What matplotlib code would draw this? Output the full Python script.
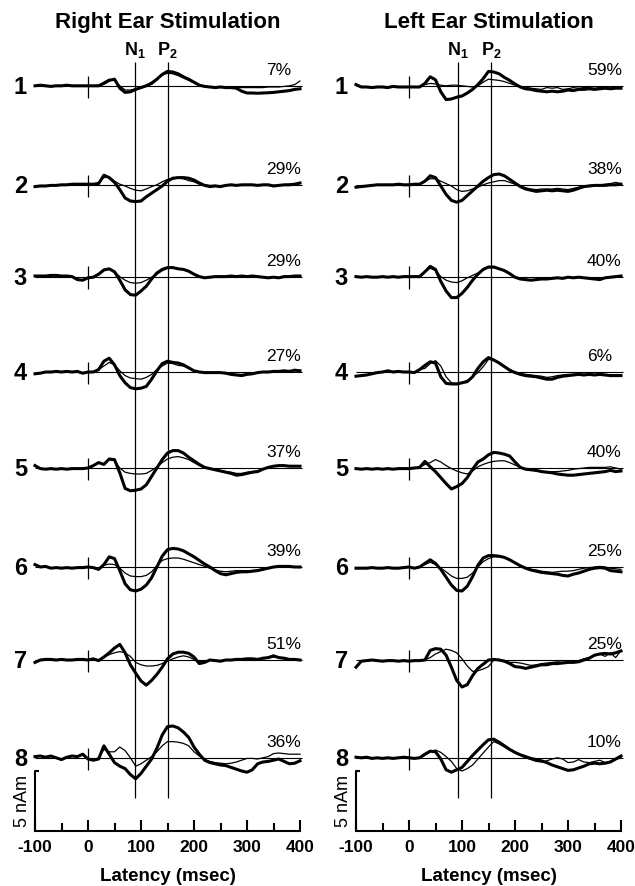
import matplotlib
matplotlib.use("Agg")
import matplotlib.pyplot as plt
import numpy as np

plt.rcParams["font.family"] = ["Liberation Sans", "DejaVu Sans"]
plt.rcParams["mathtext.fontset"] = "custom"
plt.rcParams["mathtext.bf"] = "Liberation Sans:bold"
plt.rcParams["mathtext.rm"] = "Liberation Sans"
plt.rcParams["axes.unicode_minus"] = False

# Latenz-Raster in msec, Werte in nAm
latency = np.arange(-100, 401, 10)

row_names = ["1", "2", "3", "4", "5", "6", "7", "8"]
row_base = [62.1, 53.85, 46.2, 38.25, 30.25, 22.0, 14.25, 6.1]

right_ear_pct = ["7%", "29%", "29%", "27%", "37%", "39%", "51%", "36%"]
left_ear_pct = ["59%", "38%", "40%", "6%", "40%", "25%", "25%", "10%"]

n1_lat = [89, 93]
p2_lat = [150, 155]

# Right Ear Stimulation, dicke Kurven
right_ear_thick = [
    [0, 0.05, 0, -0.05, 0, 0, 0.05, 0, 0, 0,
     0, 0, 0, 0.2, 0.45, 0.55, -0.2, -0.55, -0.5, -0.3,
     -0.15, 0.0, 0.2, 0.55, 0.95, 1.2, 1.15, 1.0, 0.75, 0.55,
     0.3, 0.05, -0.05, -0.1, -0.15, -0.1, -0.15, -0.15, -0.2, -0.45,
     -0.6, -0.6, -0.62, -0.6, -0.58, -0.55, -0.5, -0.45, -0.4, -0.3,
     -0.25],
    [-0.15, -0.1, -0.1, -0.05, -0.05, 0, 0, 0.05, 0.05, 0.05,
     0.05, 0.05, 0.1, 0.8, 0.6, 0.2, -0.4, -1.1, -1.35, -1.4,
     -1.35, -1.0, -0.7, -0.4, -0.1, 0.3, 0.55, 0.6, 0.6, 0.55,
     0.4, 0.15, -0.05, -0.15, -0.1, -0.15, -0.05, 0, -0.05, 0,
     0, 0, -0.05, 0, 0, -0.1, -0.05, 0, 0, 0.05,
     0.15],
    [0.05, 0.05, 0.05, 0.1, 0.1, 0.05, 0.05, 0, -0.25, -0.3,
     -0.1, -0.05, 0.2, 0.55, 0.65, 0.4, -0.3, -1.1, -1.5, -1.55,
     -1.2, -0.8, -0.2, 0.3, 0.6, 0.75, 0.75, 0.65, 0.6, 0.45,
     0.2, 0.0, -0.1, -0.05, 0, 0, 0, 0.05, 0, 0.05,
     0, 0.05, 0, -0.05, -0.1, -0.05, -0.1, 0, 0, 0.05,
     0.05],
    [-0.15, -0.1, 0, 0, 0.05, 0, 0.05, 0, 0.05, -0.1,
     0, 0, 0.2, 0.9, 1.15, 0.6, -0.3, -0.9, -1.3, -1.4,
     -1.35, -1.2, -0.6, 0.1, 0.7, 0.9, 0.8, 0.75, 0.6, 0.35,
     0.1, 0.0, -0.05, -0.05, -0.05, -0.05, -0.1, -0.2, -0.25, -0.3,
     -0.2, -0.15, -0.05, 0, 0, 0.05, 0.05, 0.1, 0.05, 0.15,
     0.1],
    [0.2, -0.05, -0.1, -0.05, -0.1, -0.05, -0.1, -0.05, -0.05, -0.05,
     0, 0.2, 0.45, 0.3, 0.75, 0.7, -0.4, -1.7, -1.9, -1.85,
     -1.75, -1.4, -0.7, 0.0, 0.7, 1.25, 1.45, 1.45, 1.25, 0.9,
     0.6, 0.3, 0.05, -0.05, -0.15, -0.25, -0.35, -0.45, -0.6, -0.55,
     -0.45, -0.35, -0.3, -0.1, 0.05, 0.15, 0.2, 0.2, 0.15, 0.15,
     0.15],
    [0.2, 0.0, 0.05, -0.1, -0.05, -0.1, -0.05, -0.1, -0.05, -0.05,
     0, -0.05, -0.2, 0.2, 0.85, 0.7, -0.3, -1.4, -1.9, -2.0,
     -1.85, -1.5, -0.9, 0.0, 0.9, 1.45, 1.55, 1.5, 1.35, 1.1,
     0.85, 0.55, 0.25, 0.0, -0.3, -0.55, -0.65, -0.55, -0.45, -0.4,
     -0.4, -0.35, -0.3, -0.2, -0.1, 0.0, 0.05, 0.05, 0.05, 0.0,
     0.0],
    [-0.2, 0.0, 0.05, 0.05, 0.0, 0.05, 0.0, 0.0, 0.05, 0.05,
     0.0, 0.1, -0.05, 0.25, 0.6, 1.0, 1.3, 0.6, -0.4, -1.1,
     -1.75, -2.1, -1.7, -1.2, -0.6, 0.1, 0.5, 0.65, 0.65, 0.55,
     0.25, -0.3, -0.2, 0.0, -0.05, -0.1, 0.0, 0.0, 0.05, 0.05,
     0.1, 0.1, 0.05, 0.15, 0.2, 0.35, 0.2, 0.15, 0.05, 0.05,
     0.0],
    [0.1, 0.15, 0.05, 0.15, 0.0, -0.15, 0.05, 0.15, 0.1, 0.3,
     -0.1, -0.2, -0.1, 1.0, 0.3, -0.4, -0.7, -0.9, -1.4, -1.75,
     -1.3, -0.7, -0.1, 0.8, 1.9, 2.6, 2.65, 2.5, 2.15, 1.7,
     0.9, 0.3, -0.2, -0.4, -0.5, -0.6, -0.65, -0.8, -0.95, -1.1,
     -1.2, -1.0, -0.5, -0.35, -0.3, -0.2, -0.1, -0.3, -0.5, -0.45,
     -0.25],
]

# Right Ear Stimulation, duenne Kurven
right_ear_thin = [
    [0, 0.05, 0, -0.05, 0, 0, 0.05, 0, 0, 0,
     0, 0, 0.05, 0.3, 0.55, 0.45, 0.0, -0.35, -0.35, -0.25,
     -0.1, 0.05, 0.3, 0.6, 0.9, 1.05, 1.0, 0.85, 0.65, 0.45,
     0.25, 0.05, -0.05, -0.1, -0.1, -0.1, -0.15, -0.15, -0.15, -0.15,
     -0.15, -0.15, -0.15, -0.15, -0.1, -0.1, -0.1, -0.05, 0.0, 0.1,
     0.4],
    [-0.15, -0.1, -0.1, -0.05, -0.05, 0, 0, 0.05, 0.05, 0.05,
     0.05, 0.05, 0.2, 0.6, 0.65, 0.3, 0.05, -0.1, -0.3, -0.45,
     -0.5, -0.35, -0.15, 0.0, 0.25, 0.45, 0.5, 0.55, 0.5, 0.35,
     0.25, 0.05, 0, -0.05, -0.05, -0.1, -0.05, 0, 0, 0,
     0, 0, 0, 0, 0, -0.05, 0, 0, 0.05, 0.05,
     0.15],
    [0.05, 0.05, 0.05, 0.1, 0.1, 0.05, 0.05, 0, -0.25, -0.3,
     -0.1, -0.05, 0.2, 0.6, 0.6, 0.4, 0.0, -0.3, -0.5, -0.55,
     -0.5, -0.3, -0.05, 0.2, 0.5, 0.7, 0.72, 0.65, 0.6, 0.45,
     0.2, 0.0, -0.1, -0.05, 0, 0, 0, 0.05, 0, 0.05,
     0, 0.05, 0, -0.05, -0.1, -0.05, -0.1, 0, 0, 0.05,
     0.05],
    [-0.15, -0.1, 0, 0, 0.05, 0, 0.05, 0, 0.05, -0.1,
     0, 0, 0.2, 0.5, 0.8, 0.6, 0.1, -0.3, -0.5, -0.55,
     -0.6, -0.45, -0.2, 0.2, 0.5, 0.75, 0.7, 0.55, 0.5, 0.3,
     0.1, 0.0, -0.05, -0.05, -0.05, -0.1, -0.1, -0.15, -0.2, -0.2,
     -0.15, -0.1, -0.05, 0, 0, 0.05, 0.05, 0.1, 0.05, 0.15,
     0.1],
    [0.2, -0.05, -0.1, -0.05, -0.1, -0.05, -0.1, -0.05, -0.05, -0.05,
     0, 0.2, 0.45, 0.3, 0.7, 0.6, 0.0, -0.35, -0.45, -0.5,
     -0.5, -0.45, -0.2, 0.1, 0.45, 0.75, 0.9, 0.95, 0.85, 0.7,
     0.45, 0.2, 0.05, -0.05, -0.1, -0.2, -0.3, -0.35, -0.45, -0.45,
     -0.35, -0.3, -0.25, -0.1, 0.05, 0.15, 0.2, 0.2, 0.15, 0.15,
     0.15],
    [0.2, 0.0, 0.05, -0.1, -0.05, -0.1, -0.05, -0.1, -0.05, -0.05,
     0, -0.05, -0.2, 0.15, 0.25, 0.2, -0.1, -0.5, -0.75, -0.8,
     -0.8, -0.7, -0.4, 0.1, 0.55, 0.7, 0.75, 0.75, 0.65, 0.5,
     0.35, 0.2, 0.05, -0.1, -0.25, -0.35, -0.4, -0.35, -0.3, -0.3,
     -0.3, -0.3, -0.25, -0.15, -0.05, 0.0, 0.05, 0.05, 0.05, 0.0,
     0.0],
    [-0.2, 0.0, 0.05, 0.05, 0.0, 0.05, 0.0, 0.0, 0.05, 0.05,
     0.0, 0.1, 0.0, 0.2, 0.45, 0.6, 0.7, 0.6, 0.3, -0.2,
     -0.4, -0.5, -0.5, -0.45, -0.3, -0.1, 0.1, 0.25, 0.35, 0.25,
     0.05, -0.15, -0.1, 0.0, -0.05, -0.05, 0.0, 0.0, 0.05, 0.05,
     0.1, 0.05, 0.05, 0.1, 0.15, 0.25, 0.2, 0.1, 0.05, 0.05,
     0.0],
    [0.1, 0.15, 0.05, 0.15, 0.0, -0.15, 0.05, 0.15, 0.1, 0.35,
     -0.1, -0.2, 0.0, 0.7, 0.5, 0.5, 0.9, 0.6, 0.0, -0.7,
     -0.5, -0.2, 0.1, 0.5, 1.0, 1.35, 1.35, 1.3, 1.2, 1.0,
     0.5, 0.15, -0.15, -0.3, -0.4, -0.45, -0.5, -0.45, -0.35, -0.2,
     -0.05, -0.05, -0.1, 0.0, 0.1, 0.35, 0.4, 0.35, 0.3, 0.3,
     0.3],
]

# Left Ear Stimulation, dicke Kurven
left_ear_thick = [
    [0.1, -0.1, -0.1, -0.15, -0.1, -0.1, -0.15, -0.05, -0.1, -0.1,
     -0.1, -0.1, -0.1, 0.2, 0.75, 0.5, -0.5, -1.15, -1.1, -0.95,
     -0.85, -0.6, -0.3, 0.1, 0.6, 1.2, 1.15, 1.0, 0.7, 0.45,
     0.15, -0.1, -0.25, -0.3, -0.4, -0.45, -0.5, -0.45, -0.5, -0.45,
     -0.35, -0.4, -0.3, -0.3, -0.25, -0.3, -0.25, -0.2, -0.25, -0.2,
     -0.2],
    [-0.2, -0.15, -0.1, -0.05, 0.0, 0.0, 0.0, 0.0, 0.05, 0.0,
     0.0, 0.05, 0.05, 0.3, 0.75, 0.6, -0.1, -0.8, -1.3, -1.45,
     -1.3, -0.9, -0.5, -0.1, 0.3, 0.6, 0.85, 0.9, 0.75, 0.45,
     0.15, -0.15, -0.35, -0.45, -0.55, -0.5, -0.45, -0.5, -0.45, -0.5,
     -0.55, -0.45, -0.3, -0.15, -0.1, -0.05, -0.05, -0.05, 0.0, 0.0,
     0.05],
    [0.0, -0.05, 0.0, -0.05, -0.05, 0.0, -0.05, 0.0, -0.05, 0.0,
     0.0, 0.0, 0.0, 0.4, 0.85, 0.6, -0.4, -1.2, -1.75, -1.75,
     -1.4, -0.9, -0.3, 0.2, 0.6, 0.8, 0.8, 0.65, 0.5, 0.25,
     -0.05, -0.2, -0.25, -0.3, -0.25, -0.2, -0.2, -0.15, -0.1, -0.15,
     -0.05, -0.1, -0.05, -0.1, -0.15, -0.2, -0.25, -0.1, -0.05, 0.0,
     0.05],
    [-0.35, -0.3, -0.25, -0.15, -0.05, 0.0, 0.1, 0.0, 0.05, 0.0,
     0.0, -0.05, 0.2, 0.55, 0.85, 0.75, -0.4, -0.95, -1.0, -1.0,
     -0.9, -0.8, -0.4, 0.3, 0.85, 1.2, 1.0, 0.75, 0.45, 0.15,
     -0.05, -0.2, -0.3, -0.35, -0.4, -0.5, -0.6, -0.6, -0.45, -0.35,
     -0.3, -0.25, -0.2, -0.25, -0.2, -0.25, -0.2, -0.25, -0.3, -0.3,
     -0.3],
    [-0.05, -0.1, -0.05, -0.1, -0.05, -0.1, -0.05, -0.1, -0.05, -0.05,
     -0.05, 0.0, 0.05, 0.55, 0.1, -0.3, -0.8, -1.3, -1.75, -1.55,
     -1.3, -0.8, -0.1, 0.5, 0.75, 1.1, 1.3, 1.25, 1.15, 1.0,
     0.5, 0.05, -0.1, -0.15, -0.2, -0.3, -0.35, -0.4, -0.5, -0.55,
     -0.6, -0.6, -0.55, -0.5, -0.45, -0.4, -0.35, -0.3, -0.2, -0.3,
     -0.25],
    [-0.1, -0.1, -0.1, -0.05, -0.1, -0.1, -0.05, -0.1, -0.1, -0.05,
     0.0, -0.1, 0.0, 0.3, 0.6, 0.3, -0.2, -0.85, -1.5, -1.95,
     -2.0, -1.6, -0.8, 0.15, 0.75, 0.95, 0.95, 0.9, 0.8, 0.6,
     0.35, 0.1, -0.1, -0.25, -0.35, -0.45, -0.5, -0.55, -0.6, -0.7,
     -0.75, -0.6, -0.5, -0.35, -0.2, -0.1, -0.05, -0.1, -0.3, -0.35,
     -0.4],
    [-0.6, -0.1, -0.05, 0.0, -0.05, -0.1, -0.05, -0.05, -0.1, -0.05,
     -0.1, -0.05, -0.05, 0.0, 0.8, 0.95, 0.9, 0.4, -0.6, -1.7,
     -2.25, -2.05, -1.3, -0.7, -0.35, 0.0, 0.05, 0.0, -0.1, -0.3,
     -0.55, -0.6, -0.7, -0.6, -0.5, -0.4, -0.4, -0.3, -0.3, -0.25,
     -0.2, -0.2, -0.15, 0.0, 0.15, 0.4, 0.5, 0.55, 0.5, 0.6,
     0.75],
    [0.05, 0.0, 0.05, -0.05, 0.0, -0.05, 0.0, -0.05, 0.0, 0.05,
     0.0, -0.05, 0.0, 0.3, 0.55, 0.5, -0.1, -1.0, -1.2, -1.0,
     -0.8, -0.3, 0.2, 0.65, 1.1, 1.5, 1.55, 1.3, 1.0, 0.7,
     0.45, 0.25, 0.1, -0.05, -0.15, -0.25, -0.4, -0.6, -0.75, -0.9,
     -1.05, -1.0, -0.85, -0.7, -0.5, -0.45, -0.5, -0.45, -0.35, -0.1,
     0.15],
]

# Left Ear Stimulation, duenne Kurven
left_ear_thin = [
    [0.1, -0.1, -0.1, -0.15, -0.1, -0.1, -0.15, -0.05, -0.1, -0.1,
     -0.1, -0.1, -0.05, 0.1, 0.2, 0.15, 0.05, 0.0, 0.05, 0.05,
     0.0, -0.05, -0.1, 0.0, 0.3, 0.55, 0.5, 0.45, 0.35, 0.2,
     0.05, -0.05, -0.1, -0.2, -0.25, -0.3, -0.15, -0.2, -0.15, -0.3,
     -0.25, -0.15, -0.2, -0.15, -0.15, -0.2, -0.15, -0.15, -0.2, -0.15,
     -0.15],
    [-0.2, -0.15, -0.1, -0.05, 0.0, 0.0, 0.0, 0.0, 0.05, 0.0,
     0.0, 0.05, 0.05, 0.3, 0.5, 0.5, 0.3, 0.1, -0.1, -0.4,
     -0.55, -0.5, -0.35, -0.2, 0.0, 0.15, 0.25, 0.35, 0.35, 0.2,
     0.05, -0.1, -0.25, -0.35, -0.4, -0.35, -0.35, -0.35, -0.3, -0.35,
     -0.4, -0.3, -0.2, -0.1, -0.05, 0.0, 0.0, 0.05, 0.1, 0.2,
     0.1],
    [0.0, -0.05, 0.0, -0.05, -0.05, 0.0, -0.05, 0.0, -0.05, 0.0,
     0.0, 0.0, 0.0, 0.4, 0.7, 0.5, 0.0, -0.3, -0.45, -0.5,
     -0.35, -0.1, 0.1, 0.3, 0.55, 0.75, 0.75, 0.65, 0.5, 0.25,
     -0.05, -0.2, -0.25, -0.3, -0.25, -0.2, -0.2, -0.15, -0.1, -0.15,
     -0.05, -0.1, -0.05, -0.1, -0.15, -0.2, -0.25, -0.1, -0.05, 0.0,
     0.05],
    [-0.35, -0.3, -0.25, -0.15, -0.05, 0.0, 0.1, 0.0, 0.05, 0.0,
     0.0, -0.05, 0.2, 0.3, 0.7, 0.95, 0.5, -0.4, -0.9, -0.95,
     -0.9, -0.7, -0.4, -0.05, 0.45, 1.05, 1.0, 0.8, 0.5, 0.2,
     0.0, -0.1, -0.2, -0.25, -0.3, -0.35, -0.45, -0.4, -0.3, -0.25,
     -0.2, -0.2, -0.15, -0.2, -0.15, -0.2, -0.15, -0.2, -0.25, -0.25,
     -0.25],
    [-0.05, -0.1, -0.05, -0.1, -0.05, -0.1, -0.05, -0.1, -0.05, -0.05,
     -0.05, 0.0, 0.05, 0.3, 0.45, 0.7, 0.5, 0.2, -0.05, -0.25,
     -0.4, -0.5, -0.25, 0.1, 0.3, 0.45, 0.55, 0.6, 0.6, 0.45,
     0.25, 0.05, -0.1, -0.15, -0.25, -0.3, -0.35, -0.3, -0.3, -0.25,
     -0.2, -0.1, -0.05, 0.0, 0.05, 0.05, 0.05, 0.05, 0.1, 0.0,
     -0.1],
    [-0.1, -0.1, -0.1, -0.05, -0.1, -0.1, -0.05, -0.1, -0.1, -0.05,
     0.0, -0.1, 0.0, 0.2, 0.4, 0.2, -0.1, -0.4, -0.75, -0.95,
     -0.95, -0.85, -0.5, 0.0, 0.45, 0.7, 0.85, 0.85, 0.8, 0.6,
     0.35, 0.1, -0.05, -0.2, -0.25, -0.35, -0.4, -0.45, -0.4, -0.35,
     -0.35, -0.3, -0.2, -0.1, -0.05, 0.0, 0.05, 0.0, -0.1, -0.15,
     -0.2],
    [-0.6, -0.1, -0.05, 0.0, -0.05, -0.1, -0.05, -0.05, -0.1, -0.05,
     -0.1, -0.05, -0.05, 0.0, 0.2, 0.5, 0.7, 0.9, 0.8, 0.6,
     0.1, -0.5, -0.95, -0.9, -0.75, -0.55, 0.0, 0.05, -0.05, -0.2,
     -0.2, -0.25, -0.35, -0.45, -0.4, -0.3, -0.25, -0.2, -0.15, -0.2,
     -0.15, -0.1, -0.05, 0.1, 0.2, 0.35, 0.5, 0.3, 0.6, 0.2,
     0.8],
    [0.05, 0.0, 0.05, -0.05, 0.0, -0.05, 0.0, -0.05, 0.0, 0.05,
     0.0, -0.05, 0.0, 0.2, 0.5, 0.65, 0.45, 0.1, -0.3, -0.9,
     -1.1, -0.9, -0.6, -0.1, 0.4, 0.9, 1.35, 1.15, 0.9, 0.65,
     0.4, 0.2, 0.0, -0.15, -0.3, -0.35, -0.25, -0.1, 0.0, -0.1,
     -0.4, -0.35, -0.15, -0.35, -0.4, -0.3, -0.2, -0.4, -0.3, -0.15,
     0.0],
]

fig = plt.figure(figsize=(6.35, 8.86), dpi=100)


def panel(left_px, title, thick, thin, pct, n1, p2):
    ax = fig.add_axes([left_px / 635, 55 / 886, 265 / 635, 831 / 886])
    ax.set_xlim(-100, 400)
    ax.set_ylim(0, 831 / 12)
    for side in ["left", "right", "top"]:
        ax.spines[side].set_visible(False)
    ax.spines["bottom"].set_linewidth(1.5)
    ax.set_yticks([])
    ax.set_xticks(np.arange(-100, 401, 100))
    ax.set_xticklabels(["-100", "0", "100", "200", "300", "400"])
    ax.set_xticks(np.arange(-50, 400, 100), minor=True)
    ax.tick_params(axis="x", which="major", direction="in", length=8, width=1.5, pad=6.5, labelsize=12.5)
    ax.tick_params(axis="x", which="minor", direction="in", length=6, width=1.5)
    for lab in ax.get_xticklabels():
        lab.set_fontweight("bold")
    ax.set_xlabel("Latency (msec)", fontsize=13.5, fontweight="bold", labelpad=9)

    # Skalenbalken 5 nAm
    ax.plot([-92, -100, -100], [5, 5, 0], color="k", lw=1.5, clip_on=False, solid_capstyle="butt")
    ax.text(-124, 2.5, "5 nAm", rotation=90, ha="center", va="center", fontsize=13)

    # N1 / P2 Linien
    ax.vlines([n1, p2], 2.75, 64.1, color="k", lw=0.9)
    ax.text(n1, 64.7, r"$\mathbf{N}_\mathbf{1}$", ha="center", va="baseline", fontsize=13)
    ax.text(p2, 64.7, r"$\mathbf{P}_\mathbf{2}$", ha="center", va="baseline", fontsize=13)

    for i in range(8):
        b = row_base[i]
        ax.hlines(b, -100, 403, color="k", lw=0.8, clip_on=False)
        ax.vlines(0, b - 1.0, b + 0.85, color="k", lw=0.9)
        ax.plot(latency, b + np.array(thin[i]), color="k", lw=0.9, clip_on=False)
        ax.plot(latency, b + np.array(thick[i]), color="k", lw=2.2, clip_on=False)
        ax.text(-115, b - 0.15, row_names[i], ha="right", va="center", fontsize=17, fontweight="bold")
        ax.text(336, b + 0.9, pct[i], ha="left", va="baseline", fontsize=12.5)

    ax.text(150, 67.4, title, ha="center", va="center", fontsize=16, fontweight="bold")
    return ax


panel(35, "Right Ear Stimulation", right_ear_thick, right_ear_thin, right_ear_pct, n1_lat[0], p2_lat[0])
panel(356, "Left Ear Stimulation", left_ear_thick, left_ear_thin, left_ear_pct, n1_lat[1], p2_lat[1])

fig.savefig("out.png", dpi=100)
